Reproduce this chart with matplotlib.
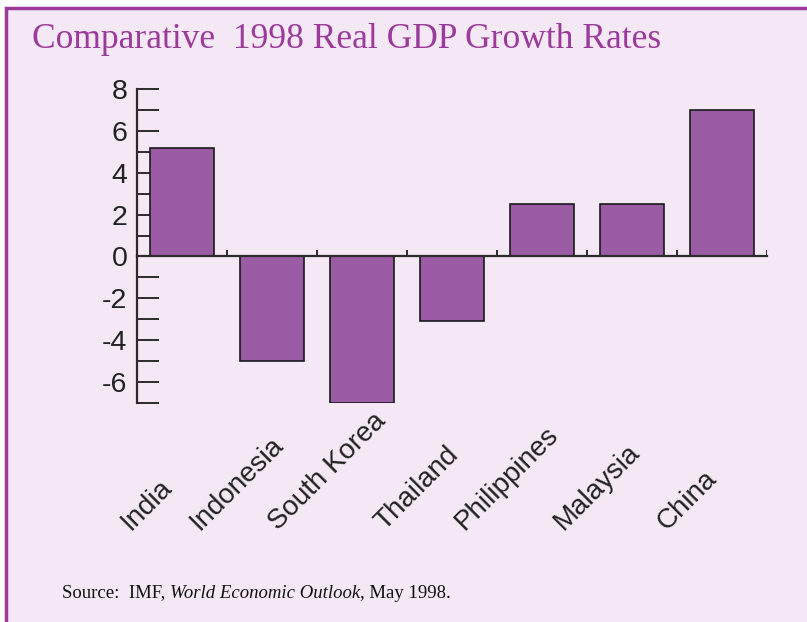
import matplotlib
matplotlib.use("Agg")
import matplotlib.pyplot as plt
import matplotlib.transforms as mtransforms
from matplotlib.patches import Rectangle

# data
countries = ["India", "Indonesia", "South Korea", "Thailand",
             "Philippines", "Malaysia", "China"]
growth = [5.2, -5.0, -7.0, -3.1, 2.5, 2.5, 7.0]
y_labels = [-6, -4, -2, 0, 2, 4, 6, 8]

BG = "#F3E8F4"
BAR = "#9B5BA5"
FRAME = "#9B3A9B"
INK = "#2B2B2B"

fig = plt.figure(figsize=(8.07, 6.22), dpi=100)
fig.patch.set_facecolor("white")

# lavender panel with purple frame (right/bottom run off the page)
fig.patches.append(Rectangle((6 / 807, -0.05), 1.1, 1 - 8 / 622 + 0.05,
                             transform=fig.transFigure, facecolor=BG,
                             edgecolor=FRAME, linewidth=2.5, zorder=-5))

ax = fig.add_axes([137 / 807, 1 - 403 / 622, (767 - 137) / 807, (403 - 89) / 622])
ax.set_facecolor("none")
ax.set_zorder(2)

x = list(range(len(countries)))
ax.bar(x, growth, width=0.72, color=BAR, edgecolor="#1a1a1a", linewidth=1.2, zorder=2)

ax.set_xlim(-0.5, len(countries) - 0.5)
ax.set_ylim(-7, 8)

for s in ["top", "right"]:
    ax.spines[s].set_visible(False)
ax.spines["left"].set_color(INK)
ax.spines["left"].set_linewidth(1.6)
ax.spines["bottom"].set_position(("data", 0))
ax.spines["bottom"].set_color(INK)
ax.spines["bottom"].set_linewidth(1.6)
ax.spines["bottom"].set_zorder(3)

# y ticks: labels on even numbers, unlabeled ticks on odd
ax.set_yticks(y_labels)
ax.set_yticklabels([str(v) for v in y_labels])
ax.set_yticks([v for v in range(-7, 9) if v % 2], minor=True)
ax.tick_params(axis="y", which="both", direction="in", length=16, width=1.4,
               color=INK, labelsize=20.5, labelcolor="#222222", pad=7)
for lab in ax.get_yticklabels():
    lab.set_family("Liberation Sans")

# x ticks between categories, pointing up
ax.set_xticks([])
for i in x:
    ax.plot([i + 0.5, i + 0.5], [0, 0.32], color=INK, lw=1.4, zorder=3,
            solid_capstyle="butt")

# rotated category labels, bottoms aligned
shift = mtransforms.ScaledTranslation(-0.35, 0, fig.dpi_scale_trans)
trans = mtransforms.blended_transform_factory(ax.transData, fig.transFigure) + shift
for i, name in zip(x, countries):
    ax.text(i, 1 - 535 / 622, name, transform=trans, rotation=45,
            ha="center", va="bottom", fontsize=20, color="#222222",
            family="Liberation Sans")

fig.text(32 / 807, 1 - 40 / 622, "Comparative  1998 Real GDP Growth Rates",
         fontsize=25.5, color=FRAME, family="Liberation Serif",
         ha="left", va="center")

# source line: roman / italic / roman pieces laid end to end
src_y = 1 - 593 / 622
src = fig.text(62 / 807, src_y, "Source:  IMF, ", fontsize=13.5,
               family="Liberation Serif", color="#111111", ha="left", va="center")
fig.canvas.draw()
bb = src.get_window_extent()
it = fig.text(bb.x1 / 807, src_y, "World Economic Outlook", fontsize=13.5,
              family="Liberation Serif", style="italic", color="#111111",
              ha="left", va="center")
fig.canvas.draw()
bb2 = it.get_window_extent()
fig.text(bb2.x1 / 807, src_y, ", May 1998.", fontsize=13.5,
         family="Liberation Serif", color="#111111", ha="left", va="center")

fig.savefig("out.png", dpi=100, facecolor=fig.get_facecolor())
